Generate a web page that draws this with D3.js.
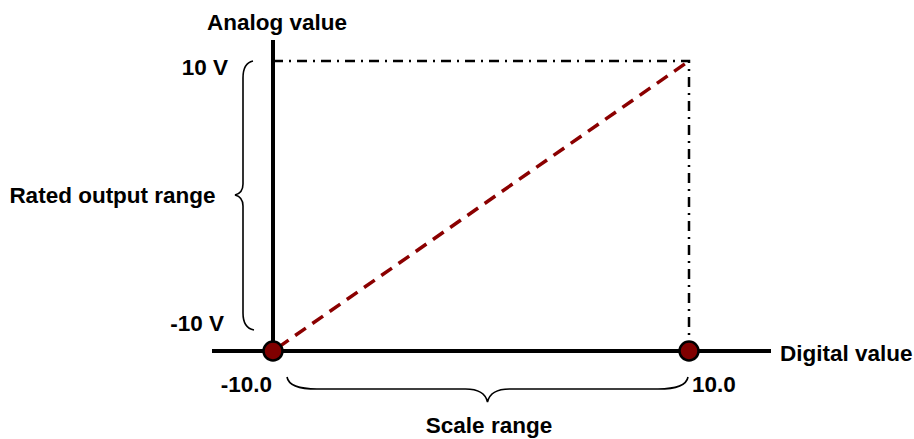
<!DOCTYPE html>
<html>
<head>
<meta charset="utf-8">
<script src="https://cdn.jsdelivr.net/npm/d3@7"></script>
<style>
  body { margin: 0; background: #fff; }
  text { font-family: "Liberation Sans", Arial, sans-serif; font-weight: bold; font-size: 22.5px; fill: #000; }
</style>
</head>
<body>
<svg id="chart" width="914" height="439"></svg>
<script>
// valeurs du graphique
var digitalRange = [-10, 10];
var analogRange = [-10, 10];
var scalePoints = [{digital: -10, analog: -10}, {digital: 10, analog: 10}];
var digitalLabels = ["-10.0", "10.0"];
var analogLabels = ["-10 V", "10 V"];
var axisTitles = {x: "Digital value", y: "Analog value"};
var braceLabels = {y: "Rated output range", x: "Scale range"};

var svg = d3.select('#chart');

var x = d3.scaleLinear().domain(digitalRange).range([273, 689]);
var y = d3.scaleLinear().domain(analogRange).range([351, 61]);

// cadre pointillé (trait-point) jusqu'au point max
var dashDot = d3.line()
  .x(function(p){ return x(p[0]); })
  .y(function(p){ return y(p[1]); });
svg.append('path')
  .attr('d', dashDot([[digitalRange[0], analogRange[1]], [digitalRange[1], analogRange[1]], [digitalRange[1], analogRange[0]]]))
  .attr('fill', 'none')
  .attr('stroke', '#000')
  .attr('stroke-width', 2.5)
  .attr('stroke-dasharray', '10,6,2,6');

// droite de conversion
var line = d3.line()
  .x(function(d){ return x(d.digital); })
  .y(function(d){ return y(d.analog); });
svg.append('path')
  .datum(scalePoints)
  .attr('d', line)
  .attr('fill', 'none')
  .attr('stroke', '#8b0000')
  .attr('stroke-width', 3.5)
  .attr('stroke-dasharray', '13,8')
  .attr('stroke-dashoffset', -6);

// axes
svg.append('line')
  .attr('x1', x(digitalRange[0])).attr('x2', x(digitalRange[0]))
  .attr('y1', 40).attr('y2', y(analogRange[0]))
  .attr('stroke', '#000').attr('stroke-width', 4);
svg.append('line')
  .attr('x1', 212).attr('x2', 771)
  .attr('y1', y(analogRange[0])).attr('y2', y(analogRange[0]))
  .attr('stroke', '#000').attr('stroke-width', 4);

// points
svg.selectAll('circle.pt')
  .data(digitalRange)
  .enter().append('circle')
  .attr('class', 'pt')
  .attr('cx', function(d){ return x(d); })
  .attr('cy', y(analogRange[0]))
  .attr('r', 9.5)
  .attr('fill', '#800000')
  .attr('stroke', '#000')
  .attr('stroke-width', 2.5);

// accolades
var path = d3.path();
var bx = 243, tipX = 235, yTop = y(analogRange[1]), yBot = y(analogRange[0]) - 21, mid = (yTop + yBot) / 2 - 0.5;
path.moveTo(bx + 10, yTop);
path.quadraticCurveTo(bx, yTop + 2, bx, yTop + 17);
path.lineTo(bx, mid - 11);
path.quadraticCurveTo(bx, mid - 2, tipX, mid);
path.quadraticCurveTo(bx, mid + 2, bx, mid + 11);
path.lineTo(bx, yBot - 17);
path.quadraticCurveTo(bx, yBot - 2, bx + 11, yBot);
svg.append('path').attr('d', path.toString())
  .attr('fill', 'none').attr('stroke', '#000').attr('stroke-width', 1.6);

var p2 = d3.path();
var by = 389, tipY = 402, xLeft = x(digitalRange[0]) + 14, xRight = x(digitalRange[1]) - 1, mx = (xLeft + xRight) / 2;
p2.moveTo(xLeft, by - 12);
p2.quadraticCurveTo(xLeft + 2, by, xLeft + 30, by);
p2.lineTo(mx - 22, by);
p2.quadraticCurveTo(mx - 3, by, mx, tipY);
p2.quadraticCurveTo(mx + 3, by, mx + 22, by);
p2.lineTo(xRight - 30, by);
p2.quadraticCurveTo(xRight - 2, by, xRight, by - 12);
svg.append('path').attr('d', p2.toString())
  .attr('fill', 'none').attr('stroke', '#000').attr('stroke-width', 1.6);

// textes
svg.append('text').attr('x', 277).attr('y', 30).attr('text-anchor', 'middle').text(axisTitles.y);
svg.append('text').attr('x', 780).attr('y', 361).text(axisTitles.x);

svg.append('text').attr('x', 228).attr('y', y(analogRange[1]) + 14).attr('text-anchor', 'end').text(analogLabels[1]);
svg.append('text').attr('x', 224).attr('y', y(analogRange[0]) - 20).attr('text-anchor', 'end').text(analogLabels[0]);

svg.append('text').attr('x', x(digitalRange[0]) - 1).attr('y', 392).attr('text-anchor', 'end').text(digitalLabels[0]);
svg.append('text').attr('x', x(digitalRange[1]) + 3).attr('y', 392).text(digitalLabels[1]);

svg.append('text').attr('x', 112.5).attr('y', 203).attr('text-anchor', 'middle').text(braceLabels.y);
svg.append('text').attr('x', 489).attr('y', 433).attr('text-anchor', 'middle').text(braceLabels.x);
</script>
</body>
</html>
